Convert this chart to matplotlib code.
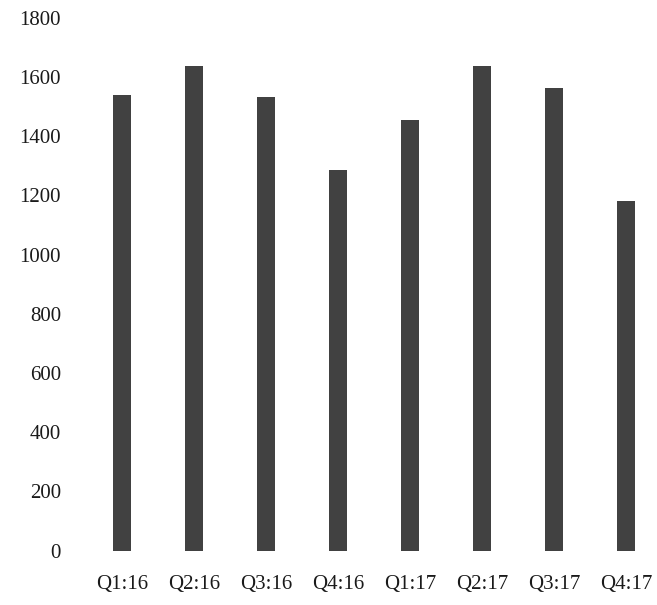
import matplotlib
matplotlib.use("Agg")
import matplotlib.pyplot as plt
import numpy as np

# quarterly totals
quarters = ["Q1:16", "Q2:16", "Q3:16", "Q4:16", "Q1:17", "Q2:17", "Q3:17", "Q4:17"]
values = [1540, 1637, 1533, 1285, 1454, 1638, 1563, 1182]
yticks = [0, 200, 400, 600, 800, 1000, 1200, 1400, 1600, 1800]

plt.rcParams['font.family'] = ['Liberation Serif', 'DejaVu Serif']

fig = plt.figure(figsize=(6.57, 6.05), dpi=100)
ax = fig.add_axes([86 / 657, 54.5 / 605, 571 / 657, 532.5 / 605])

x = np.arange(len(quarters))
ax.bar(x, values, width=0.26, color="#414141")

ax.set_xlim(-0.5, -0.5 + 571 / 72)
ax.set_ylim(0, 1800)
ax.set_yticks(yticks)
ax.set_yticklabels([str(v) for v in yticks])
ax.set_xticks(x)
ax.set_xticklabels(quarters)

for s in ax.spines.values():
    s.set_visible(False)
ax.tick_params(axis="y", length=0, pad=18, labelsize=15, labelcolor="#1a1a1a")
ax.tick_params(axis="x", length=0, pad=18, labelsize=15, labelcolor="#1a1a1a")

fig.savefig("out.png", dpi=100)
